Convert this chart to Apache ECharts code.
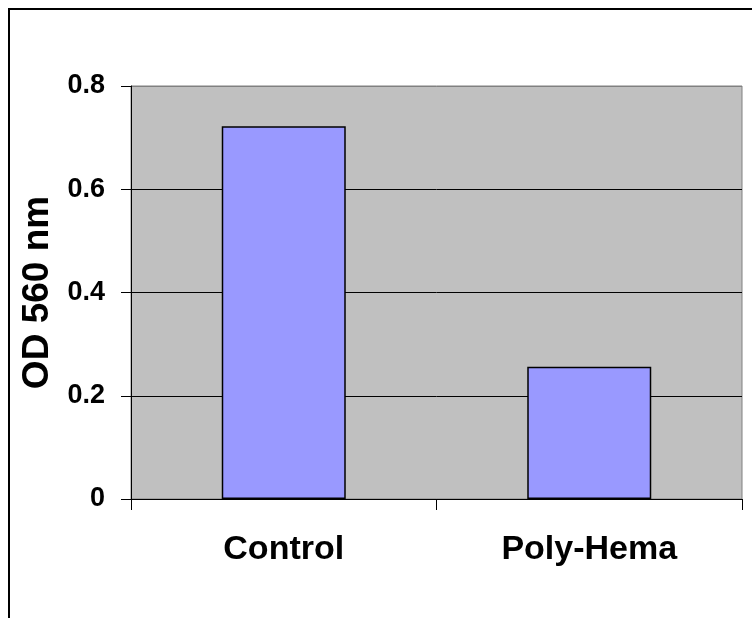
<!DOCTYPE html>
<html>
<head>
<meta charset="utf-8">
<script src="https://cdn.jsdelivr.net/npm/echarts@6/dist/echarts.min.js"></script>
<style>
  html, body { margin: 0; padding: 0; background: #fff; }
  #chart { width: 752px; height: 618px; }
</style>
</head>
<body>
<div id="chart"></div>
<script>
const categories = ['Control', 'Poly-Hema'];
const odValues = [0.722, 0.256];
const yTicks = { min: 0, max: 0.8, step: 0.2 };

const chart = echarts.init(document.getElementById('chart'));
const font = '"Liberation Sans", Arial, sans-serif';

const option = {
  animation: false,
  textStyle: { fontFamily: font },
  graphic: [
    {
      type: 'rect',
      shape: { x: 9, y: 9, width: 800, height: 700 },
      style: { fill: 'none', stroke: '#000', lineWidth: 2 },
      silent: true
    }
  ],
  grid: {
    left: 131,
    top: 86,
    right: 10,
    bottom: 119,
    show: true,
    backgroundColor: '#c0c0c0',
    borderColor: '#808080',
    borderWidth: 1
  },
  xAxis: {
    type: 'category',
    data: categories,
    axisLine: { lineStyle: { color: '#000', width: 1 } },
    axisTick: { show: true, length: 11, lineStyle: { color: '#000' } },
    axisLabel: {
      margin: 34,
      fontSize: 34,
      fontWeight: 'bold',
      color: '#000',
      fontFamily: font
    }
  },
  yAxis: {
    type: 'value',
    min: yTicks.min,
    max: yTicks.max,
    interval: yTicks.step,
    name: 'OD 560 nm',
    nameLocation: 'middle',
    nameGap: 74,
    nameTextStyle: { fontSize: 37, fontWeight: 'bold', color: '#000', fontFamily: font },
    axisLine: { show: true, lineStyle: { color: '#000', width: 1 } },
    axisTick: { show: true, length: 10, lineStyle: { color: '#000' } },
    axisLabel: {
      margin: 26,
      fontSize: 27,
      fontWeight: 'bold',
      color: '#000',
      fontFamily: font
    },
    splitLine: {
      show: true,
      lineStyle: { color: ['#000', '#000', '#000', '#000', '#808080'], width: 1 }
    }
  },
  series: [
    {
      type: 'bar',
      data: odValues,
      barWidth: 124,
      itemStyle: { color: '#9999ff', borderColor: '#000', borderWidth: 1.5 }
    }
  ]
};

chart.setOption(option);
</script>
</body>
</html>
